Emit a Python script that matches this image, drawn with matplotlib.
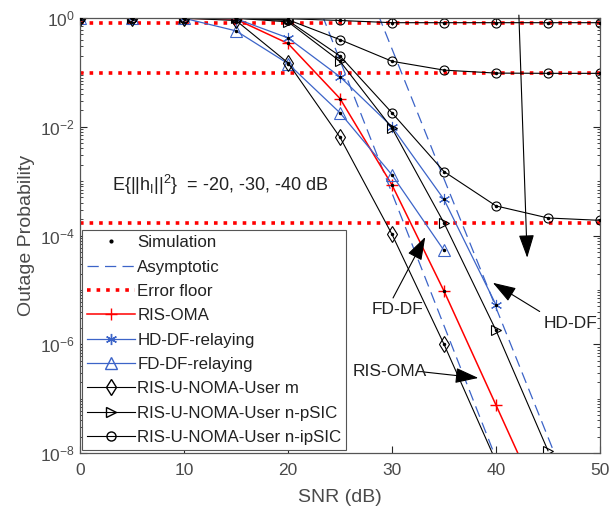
import matplotlib
matplotlib.use('Agg')
import matplotlib.pyplot as plt
from matplotlib.lines import Line2D
from matplotlib.ticker import FixedLocator, LogFormatterSciNotation, NullFormatter

plt.rcParams['font.family'] = ['Liberation Sans', 'DejaVu Sans']
plt.rcParams['mathtext.default'] = 'regular'

# SNR axis (dB)
snr = [0, 5, 10, 15, 20, 25, 30, 35, 40, 45, 50]

# outage probability
ris_oma = [0.99, 0.99, 0.99, 0.95, 0.34, 0.033, 8.5e-4, 9.5e-6, 7.6e-8, 6e-10]
hd_df = [0.99, 0.99, 0.99, 0.97, 0.43, 0.083, 0.010, 4.6e-4, 5.3e-6]
fd_df = [0.99, 0.99, 0.99, 0.58, 0.145, 0.018, 1.3e-3, 5.3e-5]
user_m = [0.99, 0.99, 0.99, 0.9, 0.15, 6.4e-3, 1.05e-4, 1.0e-6, 7e-9]
user_n_psic = [0.99, 0.99, 0.99, 0.99, 0.85, 0.16, 9.4e-3, 1.7e-4, 1.8e-6, 1.1e-8]
user_n_ipsic_20 = [0.99, 0.99, 0.99, 0.99, 0.97, 0.90, 0.82, 0.82, 0.82, 0.82, 0.82]
user_n_ipsic_30 = [0.99, 0.99, 0.99, 0.99, 0.93, 0.40, 0.16, 0.11, 0.097, 0.096, 0.096]
user_n_ipsic_40 = [0.99, 0.99, 0.99, 0.99, 0.90, 0.20, 0.018, 1.5e-3, 3.5e-4, 2.1e-4, 1.9e-4]

# asymptotic curves
asym_snr_a = [20, 25, 30, 35, 40]
asym_a = [46, 0.166, 6.0e-4, 2.2e-6, 8e-9]
asym_snr_b = [25, 30, 35, 40, 45, 50]
asym_b = [64, 0.27, 1.1e-3, 4.7e-6, 1.95e-8, 8e-11]

# error floors
floors = [0.82, 0.096, 1.7e-4]

blue = '#3c64c8'
txt = '#4a4a4a'
dark = '#222222'
asterisk = (6, 2, 0)

fig = plt.figure(figsize=(6.16, 5.16), dpi=100)
ax = fig.add_axes([80/616, 63/516, 520/616, 435/516])

for f in floors:
    ax.axhline(f, color='red', ls=':', lw=2.6, zorder=2)

ax.plot(asym_snr_a, asym_a, '--', color=blue, lw=0.9, dashes=(9, 5))
ax.plot(asym_snr_b, asym_b, '--', color=blue, lw=0.9, dashes=(9, 5))

ax.plot(snr[:len(ris_oma)], ris_oma, '-', color='red', lw=1.1, marker='+', ms=9, mew=1.0)
ax.plot(snr[:len(hd_df)], hd_df, '-', color=blue, lw=0.9, marker=asterisk, ms=8, mew=0.8)
ax.plot(snr[:len(fd_df)], fd_df, '-', color=blue, lw=0.9, marker='^', ms=8, mew=0.8, mfc='none')
ax.plot(snr[:len(user_m)], user_m, '-', color='k', lw=0.8, marker='d', ms=8, mew=0.8, mfc='none')
ax.plot(snr[:len(user_n_psic)], user_n_psic, '-', color='k', lw=0.8, marker='>', ms=7, mew=0.8, mfc='none')
for curve in [user_n_ipsic_20, user_n_ipsic_30, user_n_ipsic_40]:
    ax.plot(snr, curve, '-', color='k', lw=0.8, marker='o', ms=6.5, mew=0.8, mfc='none')

# simulation dots
for curve in [ris_oma, hd_df, fd_df, user_m, user_n_psic,
              user_n_ipsic_20, user_n_ipsic_30, user_n_ipsic_40]:
    xs = [s for s, v in zip(snr, curve) if v >= 1e-6]
    ys = [v for v in curve if v >= 1e-6]
    ax.plot(xs, ys, '.', color='k', ms=3, zorder=5)

ax.set_yscale('log')
ax.set_xlim(0, 50)
ax.set_ylim(1e-8, 1)
ax.set_xticks([0, 10, 20, 30, 40, 50])
ax.yaxis.set_major_locator(FixedLocator([1e-8, 1e-6, 1e-4, 1e-2, 1]))
ax.yaxis.set_major_formatter(LogFormatterSciNotation())
minors = []
for e in range(-8, 0):
    for k in range(1, 10):
        if k == 1 and e % 2 == 0:
            continue
        minors.append(k * 10.0 ** e)
ax.yaxis.set_minor_locator(FixedLocator(minors))
ax.yaxis.set_minor_formatter(NullFormatter())
ax.tick_params(which='both', direction='in', top=True, right=True,
               color='#262626', labelcolor=txt, labelsize=12.5)
ax.tick_params(which='major', length=5)
ax.tick_params(which='minor', length=2.5)
ax.tick_params(axis='x', pad=7)
for sp in ax.spines.values():
    sp.set_color('#555555')
    sp.set_linewidth(0.9)

ax.set_xlabel('SNR (dB)', fontsize=14, color=txt, labelpad=8)
ax.set_ylabel('Outage Probability', fontsize=14, color=txt)

ax.text(3.1, 8.5e-4, r'E{||h$_\mathregular{I}$||$^\mathregular{2}$}  = -20, -30, -40 dB',
        fontsize=13, color=dark, va='center', ha='left')

arrow = dict(arrowstyle='-|>,head_length=0.9,head_width=0.3', color='k', lw=0.8,
             mutation_scale=16, shrinkA=0, shrinkB=0)
ax.annotate('', xy=(43.0, 3.9e-5), xytext=(42.2, 1.13), arrowprops=arrow,
            annotation_clip=False)
ax.annotate('', xy=(33.2, 9.4e-5), xytext=(30.1, 7.1e-6), arrowprops=arrow)
ax.text(30.5, 4.3e-6, 'FD-DF', fontsize=12.5, color=dark, ha='center', va='center')
ax.annotate('', xy=(39.7, 1.35e-5), xytext=(44.2, 4.0e-6), arrowprops=arrow)
ax.text(47.2, 2.4e-6, 'HD-DF', fontsize=12.5, color=dark, ha='center', va='center')
ax.annotate('', xy=(38.3, 2.4e-7), xytext=(33.0, 3.1e-7), arrowprops=arrow)
ax.text(29.8, 3.1e-7, 'RIS-OMA', fontsize=12.5, color=dark, ha='center', va='center')

handles = [
    Line2D([], [], ls='none', marker='.', color='k', ms=4),
    Line2D([], [], ls='--', color=blue, lw=0.9, dashes=(9, 5)),
    Line2D([], [], ls=':', color='red', lw=2.6),
    Line2D([], [], color='red', lw=1.1, marker='+', ms=9),
    Line2D([], [], color=blue, lw=0.9, marker=asterisk, ms=8),
    Line2D([], [], color=blue, lw=0.9, marker='^', ms=8, mfc='none'),
    Line2D([], [], color='k', lw=0.8, marker='d', ms=8, mfc='none'),
    Line2D([], [], color='k', lw=0.8, marker='>', ms=7, mfc='none'),
    Line2D([], [], color='k', lw=0.8, marker='o', ms=6.5, mfc='none'),
]
labels = ['Simulation', 'Asymptotic', 'Error floor', 'RIS-OMA', 'HD-DF-relaying',
          'FD-DF-relaying', 'RIS-U-NOMA-User m', 'RIS-U-NOMA-User n-pSIC',
          'RIS-U-NOMA-User n-ipSIC']
leg = ax.legend(handles, labels, loc='lower left', bbox_to_anchor=(0.004, 0.007),
                borderaxespad=0, fontsize=12.2, frameon=True, fancybox=False,
                framealpha=1, edgecolor='#555555', handlelength=2.8,
                handletextpad=0.15, labelspacing=0.55, borderpad=0.3)
leg.get_frame().set_linewidth(0.8)
for t in leg.get_texts():
    t.set_color(dark)

fig.savefig('out.png', dpi=100)
